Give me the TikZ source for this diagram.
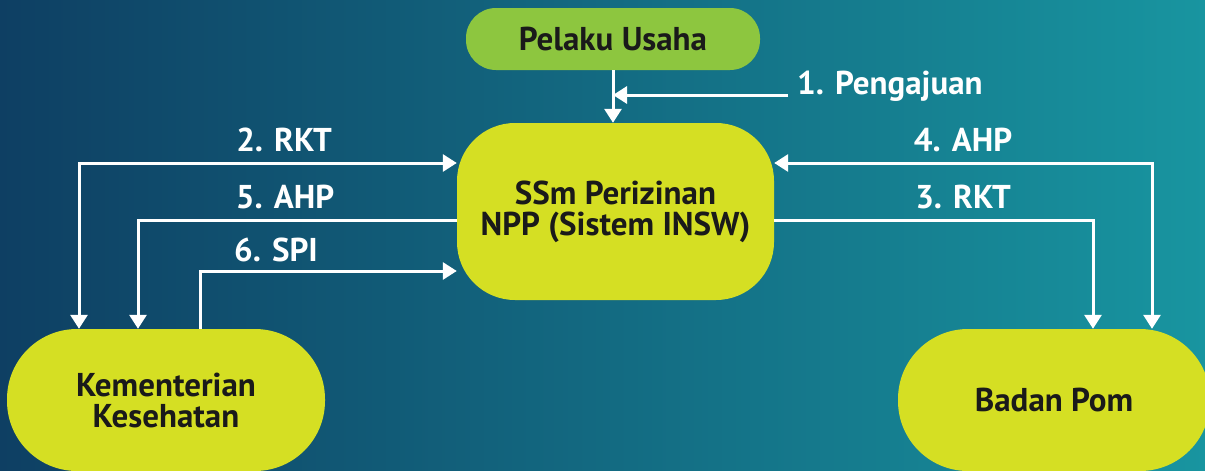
\documentclass[tikz,border=0pt]{standalone}
\usepackage{fontspec}
\setmainfont{PT Sans}
\usepackage{tikz}
\usetikzlibrary{arrows.meta}
\usetikzlibrary{positioning}
\definecolor{bgleft}{HTML}{0E3F63}
\definecolor{bgmid}{HTML}{0B7788}
\definecolor{bgright}{HTML}{1895A0}
\definecolor{usahagreen}{HTML}{8DC63F}
\definecolor{lime}{HTML}{D5DF23}
\definecolor{ink}{HTML}{1A1A1A}
\tikzset{box/.style = {fill=lime, text=ink, align=center, inner sep=0,
                       font=\fontsize{33}{31}\selectfont\bfseries}}
\tikzset{lbl/.style = {text=white, inner sep=0,
                       font=\fontsize{33}{31}\selectfont\bfseries}}
\tikzset{flow/.style = {draw=white, line width=3pt,
                        -{Triangle[width=17pt, length=14pt]}}}
\tikzset{flows/.style = {draw=white, line width=3pt,
                         {Triangle[width=17pt, length=14pt]}-{Triangle[width=17pt, length=14pt]}}}

\begin{document}
\begin{tikzpicture}[x=1pt, y=-1pt]
    \useasboundingbox (0, 0) rectangle (1205, 471);
    \clip (0, 0) rectangle (1205, 471);
    \shade [left color=bgleft, middle color=bgmid, right color=bgright] (0, 0) rectangle (1205, 471);

    \node [box, fill=usahagreen, minimum width=294pt, minimum height=62pt, rounded corners=30pt] (usaha) at (613, 39) {Pelaku Usaha};
    \node [box, minimum width=317pt, minimum height=177pt, rounded corners=58pt] (ssm) at (615.5, 211.5) {SSm Perizinan\\NPP (Sistem INSW)};
    \node [box, minimum width=318pt, minimum height=142pt, rounded corners=70pt] (kemkes) at (166, 400) {Kementerian\\Kesehatan};
    \node [box, minimum width=312pt, minimum height=142pt, rounded corners=70pt] (bpom) at (1054, 400) {Badan Pom};

    \coordinate (aju) at (788, 95);
    \coordinate (rkt2) at (79, 163);
    \coordinate (ahp5) at (138, 220);
    \coordinate (spi6) at (200, 271);
    \coordinate (ahp4) at (1152, 163);
    \coordinate (rkt3) at (1093, 220);

    \draw [flow] (usaha.south) -- (usaha.south |- ssm.north);
    \draw [flow] (aju) -- (aju -| usaha.south);
    \draw [flows] (ssm.west |- rkt2) -| (kemkes.north -| rkt2);
    \draw [flow] (ssm.west |- ahp5) -| (kemkes.north -| ahp5);
    \draw [flow] (kemkes.north -| spi6) |- (ssm.west |- spi6);
    \draw [flows] (ssm.east |- ahp4) -| (bpom.north -| ahp4);
    \draw [flow] (ssm.east |- rkt3) -| (bpom.north -| rkt3);

    \node [lbl, anchor=west] (ajulbl) at (797, 86) {1. Pengajuan};
    \node [lbl] (rkt2lbl) at (284, 140) {2. RKT};
    \node [lbl] (ahp5lbl) at (285, 197) {5. AHP};
    \node [lbl] (spi6lbl) at (276, 250) {6. SPI};
    \node [lbl] (ahp4lbl) at (963, 140) {4. AHP};
    \node [lbl] (rkt3lbl) at (963, 197) {3. RKT};
\end{tikzpicture}
\end{document}
